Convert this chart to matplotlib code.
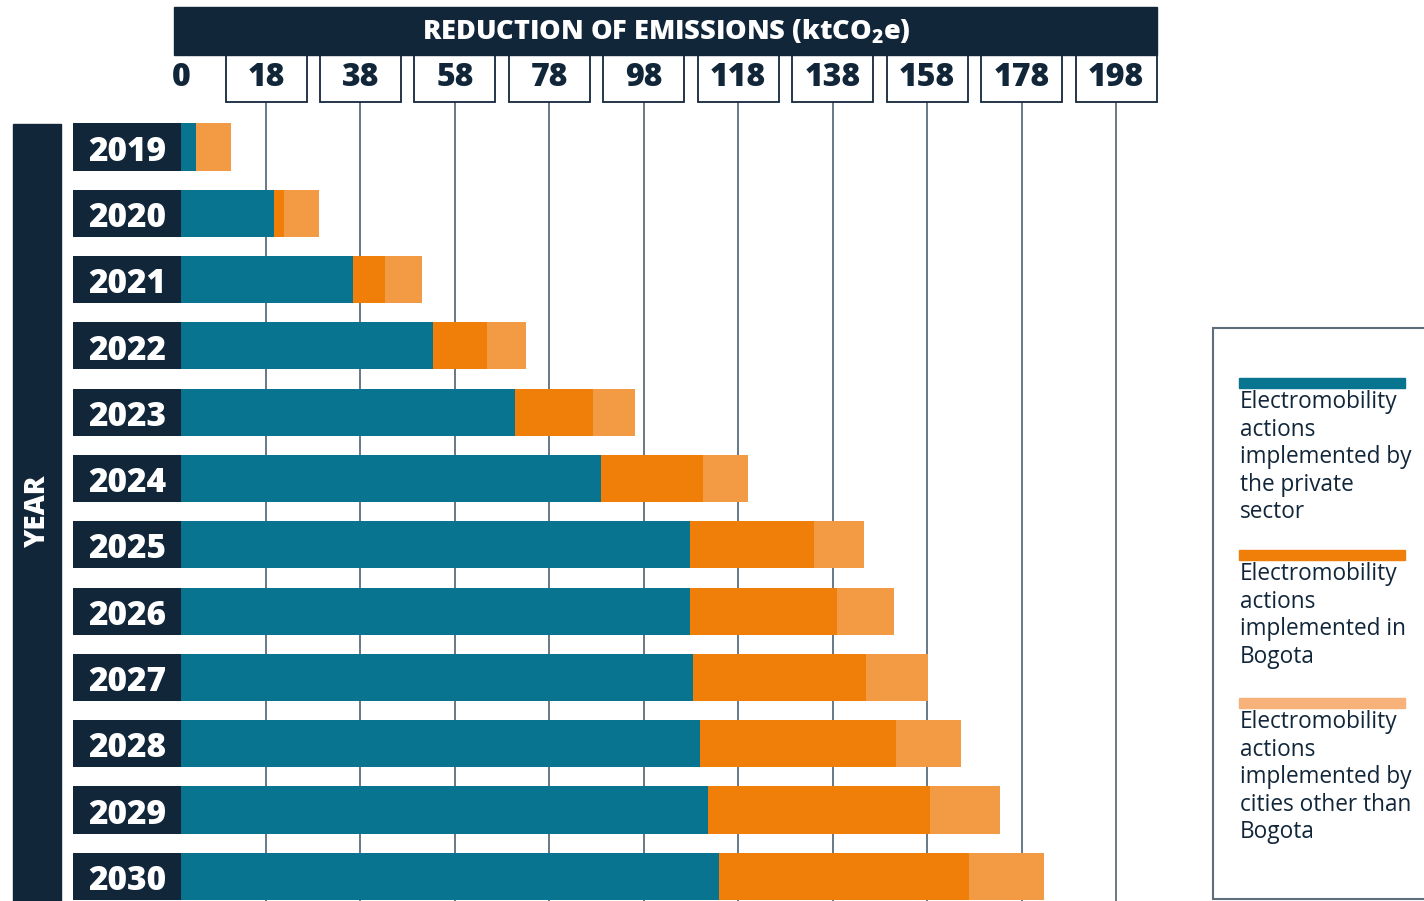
import matplotlib
matplotlib.use("Agg")
import matplotlib.pyplot as plt
from matplotlib.patches import Rectangle

plt.rcParams['font.family'] = ['Open Sans', 'DejaVu Sans']
plt.rcParams['mathtext.default'] = 'regular'

# data (ktCO2e)
years = ['2019', '2020', '2021', '2022', '2023', '2024',
         '2025', '2026', '2027', '2028', '2029', '2030']
private = [3.2, 19.7, 36.4, 53.3, 70.8, 89.0, 107.8, 107.8, 108.5, 109.9, 111.6, 114.0]
bogota = [0.0, 2.1, 6.8, 11.6, 16.5, 21.6, 26.2, 31.1, 36.6, 41.6, 47.1, 52.9]
other_cities = [7.4, 7.4, 7.8, 8.2, 8.9, 9.5, 10.6, 12.1, 13.1, 13.7, 14.8, 15.9]
ticks = [0, 18, 38, 58, 78, 98, 118, 138, 158, 178, 198]
legend_labels = ['Electromobility\nactions\nimplemented by\nthe private\nsector',
                 'Electromobility\nactions\nimplemented in\nBogota',
                 'Electromobility\nactions\nimplemented by\ncities other than\nBogota']

NAVY = '#12263a'
TEAL = '#08748f'
ORANGE = '#f07f09'
LIGHT = '#f39a45'
LIGHT_LEG = '#f7b27a'
GRID = '#5d6d7c'
HEAVY = 800

W, H = 1424, 901
fig = plt.figure(figsize=(W / 100, H / 100), dpi=100)
ax = fig.add_axes([0, 0, 1, 1])
ax.axis('off')

# pixel layout helpers
px_per = (1116 - 181) / 198.0
x0px = 181
row0, row_step = 147, 66.3
ax.set_xlim(-x0px / px_per, (W - x0px) / px_per)
ax.set_ylim((H - row0) / row_step, -row0 / row_step)


def fy(py):  # figure fraction from pixel-from-top
    return 1 - py / H


def fx(px):
    return px / W


xt = ax.get_xaxis_transform()

# vertical reference lines
ax.vlines(ticks[1:], (102 - row0) / row_step, (H - row0) / row_step,
          color=GRID, lw=1.3, zorder=1)

# bars
pos = list(range(len(years)))
bh = 0.71
left2 = [p for p in private]
left3 = [p + b for p, b in zip(private, bogota)]
ax.barh(pos, private, height=bh, color=TEAL, zorder=2)
ax.barh(pos, bogota, left=left2, height=bh, color=ORANGE, zorder=2)
ax.barh(pos, other_cities, left=left3, height=bh, color=LIGHT, zorder=2)

# year label boxes
lab_w = (181 - 73) / px_per
ax.barh(pos, [lab_w] * len(pos), left=-lab_w, height=bh, color=NAVY, zorder=2)
for p, y in zip(pos, years):
    ax.text(-lab_w / 2, p + 0.07, y, color='white', fontsize=24, fontweight=HEAVY,
            ha='center', va='center', zorder=3)

# YEAR band
fig.patches.append(Rectangle((fx(13), fy(901)), fx(61) - fx(13), fy(124) - fy(901),
                             transform=fig.transFigure, color=NAVY, zorder=0))
fig.text(fx(38), fy(512), 'YEAR', rotation=90, color='white', fontsize=20,
         fontweight=HEAVY, ha='center', va='center')

# header band
fig.patches.append(Rectangle((fx(174), fy(55)), fx(1157) - fx(174), fy(7) - fy(55),
                             transform=fig.transFigure, color=NAVY, zorder=0))
fig.text(fx(666), fy(32), r'REDUCTION OF EMISSIONS (ktCO$\mathregular{_2}$e)',
         color='white', fontsize=19.5, fontweight=HEAVY, ha='center', va='center')

# tick label boxes
box_w = 81 / px_per
for t in ticks:
    if t > 0:
        ax.add_patch(Rectangle((t - box_w / 2, fy(102)), box_w, fy(55) - fy(102),
                               transform=xt, facecolor='white', edgecolor=NAVY,
                               lw=1.3, zorder=3))
    ax.text(t, fy(78), str(t), transform=xt, color=NAVY, fontsize=23,
            fontweight=HEAVY, ha='center', va='center', zorder=4)

# legend box
fig.patches.append(Rectangle((fx(1213), fy(899)), fx(1440) - fx(1213), fy(328) - fy(899),
                             transform=fig.transFigure, facecolor='white',
                             edgecolor=GRID, lw=1.5, zorder=0))
leg_colors = [TEAL, ORANGE, LIGHT_LEG]
leg_tops = [378, 550, 698]
for c, top, lab in zip(leg_colors, leg_tops, legend_labels):
    fig.patches.append(Rectangle((fx(1239), fy(top + 10)), fx(1405) - fx(1239),
                                 fy(top) - fy(top + 10), transform=fig.transFigure,
                                 color=c, zorder=1))
    fig.text(fx(1240), fy(top + 12), lab, color=NAVY, fontsize=16.3, ha='left',
             va='top', linespacing=1.2)

fig.savefig('out.png', dpi=100)
